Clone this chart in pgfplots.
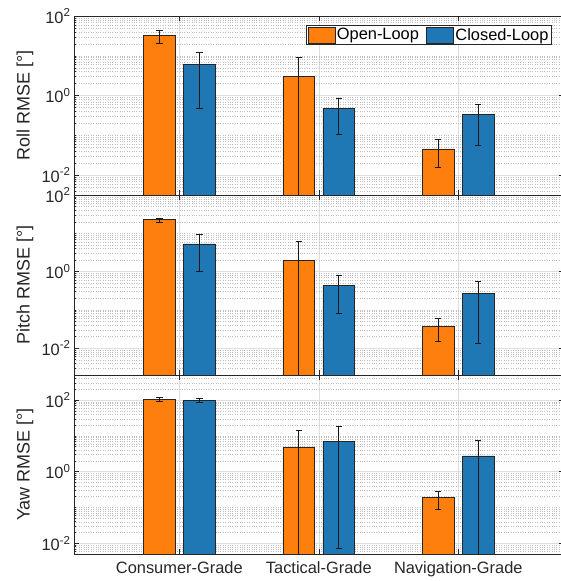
\documentclass[border=0pt]{standalone}
\usepackage{fontspec}
\setmainfont{Liberation Sans}
\usepackage{pgfplots}
\usepackage{pgfplotstable}
\pgfplotsset{compat=1.18}

\definecolor{olc}{HTML}{FF7F0E}
\definecolor{clc}{HTML}{1F77B4}
\definecolor{axc}{HTML}{262626}

% x  y  err+  err-
\pgfplotstableread{
x y ep em
0.8566 32 11.6 11.5
1.8566 3.1 6.0 3.0999
2.8566 0.046 0.033 0.0307
}\rollOL
\pgfplotstableread{
x y ep em
1.1434 6.1 5.8 5.625
2.1434 0.475 0.355 0.37
3.1434 0.33 0.27 0.273
}\rollCL
\pgfplotstableread{
x y ep em
0.8566 23.3 1.5 3.8
1.8566 2.0 4.1 1.9999
2.8566 0.037 0.022 0.0221
}\pitchOL
\pgfplotstableread{
x y ep em
1.1434 5.3 4.3 4.26
2.1434 0.43 0.37 0.351
3.1434 0.27 0.27 0.257
}\pitchCL
\pgfplotstableread{
x y ep em
0.8566 105 13 12
1.8566 4.9 9.4 4.8999
2.8566 0.19 0.10 0.099
}\yawOL
\pgfplotstableread{
x y ep em
1.1434 96 13 10
2.1434 7.1 11.8 7.0928
3.1434 2.75 4.75 2.7499
}\yawCL

\pgfplotsset{
  every axis/.append style={
    scale only axis,
    width=489.6pt,
    xmin=0.245, xmax=3.755,
    ymode=log,
    xtick={1,2,3},
    ytick={0.01,1,100},
    yticklabels={10\textsuperscript{-2},10\textsuperscript{0},10\textsuperscript{2}},
    minor ytick={0.002,0.003,0.004,0.005,0.006,0.007,0.008,0.009,
                 0.02,0.03,0.04,0.05,0.06,0.07,0.08,0.09,
                 0.1,0.2,0.3,0.4,0.5,0.6,0.7,0.8,0.9,
                 2,3,4,5,6,7,8,9,10,20,30,40,50,60,70,80,90,
                 200,300,400,500},
    xmajorgrids, ymajorgrids, yminorgrids,
    major grid style={black!13, line width=0.5pt},
    minor grid style={black!25, dotted, line width=0.4pt},
    tick align=inside,
    major tick length=5pt, minor tick length=2.5pt,
    tick style={axc, line width=0.5pt},
    axis line style={axc, line width=0.6pt},
    tick label style={font=\fontsize{16.4}{19}\selectfont, text=axc},
    xticklabel style={yshift=-4pt},
    ylabel style={font=\fontsize{18}{21}\selectfont, text=axc,
                  at={(axis description cs:-0.1,0.5)}, anchor=center},
  },
  errb/.style={
    error bars/y dir=both, error bars/y explicit,
    error bars/error bar style={black!90, line width=0.8pt},
    error bars/error mark options={rotate=90, black!90, line width=0.8pt, mark size=3.2pt}},
  olbar/.style={ybar, bar width=0.227, bar shift=0pt, fill=olc, draw=black!85, line width=0.5pt, errb},
  clbar/.style={ybar, bar width=0.227, bar shift=0pt, fill=clc, draw=black!85, line width=0.5pt, errb},
  boxlegend/.style={legend image code/.code={\draw[##1] (0pt,-8pt) rectangle (27pt,8pt);}},
}

\begin{document}
\begin{tikzpicture}[x=1pt,y=1pt]
% Roll
\begin{axis}[at={(74pt,-195pt)}, anchor=south west, height=179pt,
  log origin y=infty,
  ymin=0.0031623, ymax=100, xticklabels={},
  ylabel={Roll RMSE [°]},
  legend columns=2,
  legend style={at={(0.9757,0.95)}, anchor=north east,
    draw=black!85, line width=0.5pt, inner sep=1.5pt,
    font=\fontsize{16.4}{19}\selectfont,
    nodes={inner sep=1.5pt},
    /tikz/every even column/.append style={column sep=6pt}},
]
\addplot[olbar, boxlegend] table[x=x, y=y, y error plus=ep, y error minus=em] {\rollOL};
\addlegendentry{Open-Loop}
\addplot[clbar, boxlegend] table[x=x, y=y, y error plus=ep, y error minus=em] {\rollCL};
\addlegendentry{Closed-Loop}
\end{axis}
% Pitch
\begin{axis}[at={(74pt,-375pt)}, anchor=south west, height=180pt,
  log origin y=infty,
  ymin=0.0019953, ymax=100, xticklabels={},
  ylabel={Pitch RMSE [°]},
]
\addplot[olbar] table[x=x, y=y, y error plus=ep, y error minus=em] {\pitchOL};
\addplot[clbar] table[x=x, y=y, y error plus=ep, y error minus=em] {\pitchCL};
\end{axis}
% Yaw
\begin{axis}[at={(74pt,-554pt)}, anchor=south west, height=179pt,
  log origin y=infty,
  ymin=0.0050119, ymax=501.19,
  xticklabels={Consumer-Grade,Tactical-Grade,Navigation-Grade},
  ylabel={Yaw RMSE [°]},
]
\addplot[olbar] table[x=x, y=y, y error plus=ep, y error minus=em] {\yawOL};
\addplot[clbar] table[x=x, y=y, y error plus=ep, y error minus=em] {\yawCL};
\end{axis}
\pgfresetboundingbox
\path[use as bounding box] (0pt,0pt) rectangle (560pt,-581pt);
\end{tikzpicture}
\end{document}
